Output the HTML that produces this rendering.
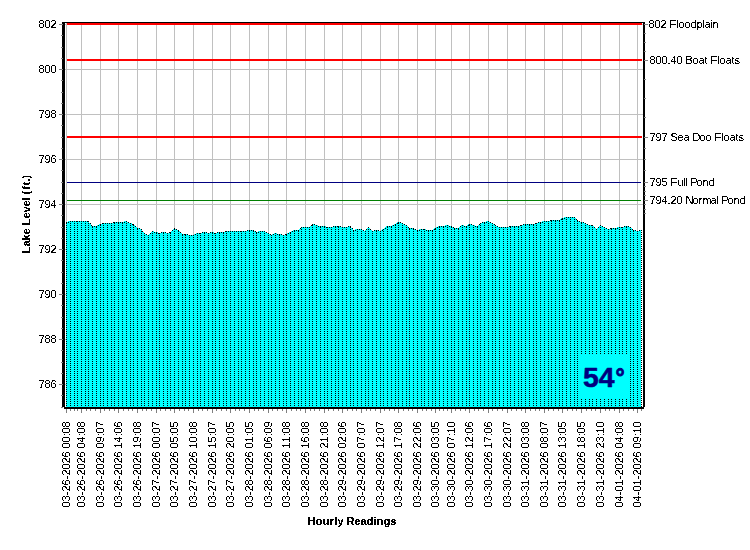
<!DOCTYPE html>
<html><head><meta charset="utf-8"><title>Lake Level</title>
<style>
html,body{margin:0;padding:0;background:#fff;width:750px;height:550px;overflow:hidden;font-family:"Liberation Sans",sans-serif;}
</style></head><body>
<svg width="750" height="550" viewBox="0 0 750 550" shape-rendering="crispEdges" style="display:block;position:absolute;left:0;top:0">
<defs><pattern id="dodd" patternUnits="userSpaceOnUse" x="0" y="0" width="1" height="2"><rect x="0" y="1" width="1" height="1" fill="#000"/></pattern><pattern id="deven" patternUnits="userSpaceOnUse" x="0" y="0" width="1" height="2"><rect x="0" y="0" width="1" height="1" fill="#000"/></pattern><filter id="bw" x="0" y="0" width="100%" height="100%" filterUnits="userSpaceOnUse" color-interpolation-filters="sRGB"><feComponentTransfer><feFuncA type="discrete" tableValues="0 1"/></feComponentTransfer></filter><filter id="bwh" x="0" y="0" width="100%" height="100%" filterUnits="userSpaceOnUse" color-interpolation-filters="sRGB"><feComponentTransfer><feFuncA type="discrete" tableValues="0 0 0 0 0 0 0 0 0 1 1 1 1 1 1 1 1 1 1 1"/></feComponentTransfer></filter><filter id="bwb" x="0" y="0" width="100%" height="100%" filterUnits="userSpaceOnUse" color-interpolation-filters="sRGB"><feComponentTransfer><feFuncA type="discrete" tableValues="0 0 1 1 1"/></feComponentTransfer></filter></defs>
<rect x="0" y="0" width="750" height="550" fill="#fff"/>
<g fill="#c0c0c0">
<rect x="66" y="23" width="1" height="384"/>
<rect x="81" y="23" width="1" height="384"/>
<rect x="100" y="23" width="1" height="384"/>
<rect x="118" y="23" width="1" height="384"/>
<rect x="137" y="23" width="1" height="384"/>
<rect x="156" y="23" width="1" height="384"/>
<rect x="174" y="23" width="1" height="384"/>
<rect x="193" y="23" width="1" height="384"/>
<rect x="212" y="23" width="1" height="384"/>
<rect x="230" y="23" width="1" height="384"/>
<rect x="249" y="23" width="1" height="384"/>
<rect x="268" y="23" width="1" height="384"/>
<rect x="286" y="23" width="1" height="384"/>
<rect x="305" y="23" width="1" height="384"/>
<rect x="324" y="23" width="1" height="384"/>
<rect x="342" y="23" width="1" height="384"/>
<rect x="361" y="23" width="1" height="384"/>
<rect x="380" y="23" width="1" height="384"/>
<rect x="398" y="23" width="1" height="384"/>
<rect x="417" y="23" width="1" height="384"/>
<rect x="435" y="23" width="1" height="384"/>
<rect x="451" y="23" width="1" height="384"/>
<rect x="469" y="23" width="1" height="384"/>
<rect x="488" y="23" width="1" height="384"/>
<rect x="507" y="23" width="1" height="384"/>
<rect x="525" y="23" width="1" height="384"/>
<rect x="544" y="23" width="1" height="384"/>
<rect x="562" y="23" width="1" height="384"/>
<rect x="581" y="23" width="1" height="384"/>
<rect x="600" y="23" width="1" height="384"/>
<rect x="619" y="23" width="1" height="384"/>
<rect x="637" y="23" width="1" height="384"/>
<rect x="65" y="24" width="578" height="1"/>
<rect x="65" y="69" width="578" height="1"/>
<rect x="65" y="114" width="578" height="1"/>
<rect x="65" y="159" width="578" height="1"/>
<rect x="65" y="204" width="578" height="1"/>
<rect x="65" y="249" width="578" height="1"/>
<rect x="65" y="294" width="578" height="1"/>
<rect x="65" y="339" width="578" height="1"/>
<rect x="65" y="384" width="578" height="1"/>
</g>
<path d="M66,407 L66,222 L70,221 L74,221 L77,221 L81,221 L85,221 L88,221 L92,226 L96,226 L100,224 L103,223 L107,223 L111,223 L114,222 L118,222 L122,222 L126,221 L130,223 L133,224 L137,228 L141,229 L144,233 L148,235 L152,231 L156,232 L159,233 L163,232 L167,233 L170,232 L174,228 L178,230 L182,234 L185,234 L189,235 L193,235 L197,233 L200,233 L204,232 L208,233 L212,232 L215,233 L219,232 L223,232 L226,231 L230,231 L234,231 L238,231 L241,231 L245,231 L249,230 L253,230 L256,232 L260,231 L264,231 L268,233 L271,235 L275,233 L279,234 L283,235 L286,234 L290,232 L294,230 L298,230 L301,227 L305,227 L309,227 L312,224 L316,225 L320,226 L324,226 L327,227 L331,227 L335,226 L338,226 L342,227 L346,227 L350,226 L353,230 L357,229 L361,229 L365,231 L368,227 L372,231 L376,230 L380,231 L383,229 L387,226 L391,226 L395,224 L398,222 L402,223 L406,225 L409,228 L413,228 L417,230 L421,229 L424,229 L428,230 L432,230 L435,228 L439,226 L443,226 L447,225 L451,226 L454,228 L458,228 L462,225 L466,226 L469,224 L473,225 L477,226 L480,223 L484,222 L488,221 L492,223 L495,225 L499,227 L503,227 L507,227 L510,226 L514,226 L518,226 L521,225 L525,224 L529,224 L533,224 L536,223 L540,222 L544,221 L548,221 L551,220 L555,220 L559,220 L562,218 L566,217 L570,217 L574,217 L577,220 L581,222 L585,223 L589,225 L592,225 L596,229 L600,225 L604,227 L608,229 L611,228 L615,228 L619,227 L622,227 L626,226 L630,227 L633,230 L637,231 L641,230 L641,407 Z" fill="#00ffff"/>
<g>
<rect x="66" y="222" width="1" height="185" fill="url(#dodd)"/>
<rect x="70" y="221" width="1" height="186" fill="url(#dodd)"/>
<rect x="74" y="221" width="1" height="186" fill="url(#dodd)"/>
<rect x="77" y="221" width="1" height="186" fill="url(#dodd)"/>
<rect x="81" y="221" width="1" height="186" fill="url(#dodd)"/>
<rect x="85" y="221" width="1" height="186" fill="url(#dodd)"/>
<rect x="88" y="221" width="1" height="186" fill="url(#dodd)"/>
<rect x="92" y="226" width="1" height="181" fill="url(#dodd)"/>
<rect x="96" y="226" width="1" height="181" fill="url(#dodd)"/>
<rect x="100" y="224" width="1" height="183" fill="url(#dodd)"/>
<rect x="103" y="223" width="1" height="184" fill="url(#dodd)"/>
<rect x="107" y="223" width="1" height="184" fill="url(#dodd)"/>
<rect x="111" y="223" width="1" height="184" fill="url(#dodd)"/>
<rect x="114" y="222" width="1" height="185" fill="url(#dodd)"/>
<rect x="118" y="222" width="1" height="185" fill="url(#dodd)"/>
<rect x="122" y="222" width="1" height="185" fill="url(#dodd)"/>
<rect x="126" y="221" width="1" height="186" fill="url(#dodd)"/>
<rect x="130" y="223" width="1" height="184" fill="url(#dodd)"/>
<rect x="133" y="224" width="1" height="183" fill="url(#dodd)"/>
<rect x="137" y="228" width="1" height="179" fill="url(#dodd)"/>
<rect x="141" y="229" width="1" height="178" fill="url(#dodd)"/>
<rect x="144" y="233" width="1" height="174" fill="url(#dodd)"/>
<rect x="148" y="235" width="1" height="172" fill="url(#dodd)"/>
<rect x="152" y="231" width="1" height="176" fill="url(#dodd)"/>
<rect x="156" y="232" width="1" height="175" fill="url(#dodd)"/>
<rect x="159" y="233" width="1" height="174" fill="url(#dodd)"/>
<rect x="163" y="232" width="1" height="175" fill="url(#dodd)"/>
<rect x="167" y="233" width="1" height="174" fill="url(#dodd)"/>
<rect x="170" y="232" width="1" height="175" fill="url(#dodd)"/>
<rect x="174" y="228" width="1" height="179" fill="url(#dodd)"/>
<rect x="178" y="230" width="1" height="177" fill="url(#dodd)"/>
<rect x="182" y="234" width="1" height="173" fill="url(#dodd)"/>
<rect x="185" y="234" width="1" height="173" fill="url(#dodd)"/>
<rect x="189" y="235" width="1" height="172" fill="url(#dodd)"/>
<rect x="193" y="235" width="1" height="172" fill="url(#dodd)"/>
<rect x="197" y="233" width="1" height="174" fill="url(#dodd)"/>
<rect x="200" y="233" width="1" height="174" fill="url(#dodd)"/>
<rect x="204" y="232" width="1" height="175" fill="url(#dodd)"/>
<rect x="208" y="233" width="1" height="174" fill="url(#dodd)"/>
<rect x="212" y="232" width="1" height="175" fill="url(#dodd)"/>
<rect x="215" y="233" width="1" height="174" fill="url(#dodd)"/>
<rect x="219" y="232" width="1" height="175" fill="url(#dodd)"/>
<rect x="223" y="232" width="1" height="175" fill="url(#dodd)"/>
<rect x="226" y="231" width="1" height="176" fill="url(#dodd)"/>
<rect x="230" y="231" width="1" height="176" fill="url(#dodd)"/>
<rect x="234" y="231" width="1" height="176" fill="url(#dodd)"/>
<rect x="238" y="231" width="1" height="176" fill="url(#dodd)"/>
<rect x="241" y="231" width="1" height="176" fill="url(#dodd)"/>
<rect x="245" y="231" width="1" height="176" fill="url(#dodd)"/>
<rect x="249" y="230" width="1" height="177" fill="url(#dodd)"/>
<rect x="253" y="230" width="1" height="177" fill="url(#dodd)"/>
<rect x="256" y="232" width="1" height="175" fill="url(#dodd)"/>
<rect x="260" y="231" width="1" height="176" fill="url(#dodd)"/>
<rect x="264" y="231" width="1" height="176" fill="url(#dodd)"/>
<rect x="268" y="233" width="1" height="174" fill="url(#dodd)"/>
<rect x="271" y="235" width="1" height="172" fill="url(#dodd)"/>
<rect x="275" y="233" width="1" height="174" fill="url(#dodd)"/>
<rect x="279" y="234" width="1" height="173" fill="url(#dodd)"/>
<rect x="283" y="235" width="1" height="172" fill="url(#dodd)"/>
<rect x="286" y="234" width="1" height="173" fill="url(#dodd)"/>
<rect x="290" y="232" width="1" height="175" fill="url(#dodd)"/>
<rect x="294" y="230" width="1" height="177" fill="url(#dodd)"/>
<rect x="298" y="230" width="1" height="177" fill="url(#dodd)"/>
<rect x="301" y="227" width="1" height="180" fill="url(#dodd)"/>
<rect x="305" y="227" width="1" height="180" fill="url(#dodd)"/>
<rect x="309" y="227" width="1" height="180" fill="url(#dodd)"/>
<rect x="312" y="224" width="1" height="183" fill="url(#dodd)"/>
<rect x="316" y="225" width="1" height="182" fill="url(#dodd)"/>
<rect x="320" y="226" width="1" height="181" fill="url(#dodd)"/>
<rect x="324" y="226" width="1" height="181" fill="url(#dodd)"/>
<rect x="327" y="227" width="1" height="180" fill="url(#dodd)"/>
<rect x="331" y="227" width="1" height="180" fill="url(#dodd)"/>
<rect x="335" y="226" width="1" height="181" fill="url(#dodd)"/>
<rect x="338" y="226" width="1" height="181" fill="url(#dodd)"/>
<rect x="342" y="227" width="1" height="180" fill="url(#dodd)"/>
<rect x="346" y="227" width="1" height="180" fill="url(#dodd)"/>
<rect x="350" y="226" width="1" height="181" fill="url(#dodd)"/>
<rect x="353" y="230" width="1" height="177" fill="url(#dodd)"/>
<rect x="357" y="229" width="1" height="178" fill="url(#dodd)"/>
<rect x="361" y="229" width="1" height="178" fill="url(#dodd)"/>
<rect x="365" y="231" width="1" height="176" fill="url(#dodd)"/>
<rect x="368" y="227" width="1" height="180" fill="url(#dodd)"/>
<rect x="372" y="231" width="1" height="176" fill="url(#dodd)"/>
<rect x="376" y="230" width="1" height="177" fill="url(#dodd)"/>
<rect x="380" y="231" width="1" height="176" fill="url(#dodd)"/>
<rect x="383" y="229" width="1" height="178" fill="url(#dodd)"/>
<rect x="387" y="226" width="1" height="181" fill="url(#dodd)"/>
<rect x="391" y="226" width="1" height="181" fill="url(#dodd)"/>
<rect x="395" y="224" width="1" height="183" fill="url(#dodd)"/>
<rect x="398" y="222" width="1" height="185" fill="url(#dodd)"/>
<rect x="402" y="223" width="1" height="184" fill="url(#dodd)"/>
<rect x="406" y="225" width="1" height="182" fill="url(#dodd)"/>
<rect x="409" y="228" width="1" height="179" fill="url(#dodd)"/>
<rect x="413" y="228" width="1" height="179" fill="url(#dodd)"/>
<rect x="417" y="230" width="1" height="177" fill="url(#dodd)"/>
<rect x="421" y="229" width="1" height="178" fill="url(#dodd)"/>
<rect x="424" y="229" width="1" height="178" fill="url(#dodd)"/>
<rect x="428" y="230" width="1" height="177" fill="url(#dodd)"/>
<rect x="432" y="230" width="1" height="177" fill="url(#dodd)"/>
<rect x="435" y="228" width="1" height="179" fill="url(#dodd)"/>
<rect x="439" y="226" width="1" height="181" fill="url(#dodd)"/>
<rect x="443" y="226" width="1" height="181" fill="url(#dodd)"/>
<rect x="447" y="225" width="1" height="182" fill="url(#dodd)"/>
<rect x="451" y="226" width="1" height="181" fill="url(#dodd)"/>
<rect x="454" y="228" width="1" height="179" fill="url(#dodd)"/>
<rect x="458" y="228" width="1" height="179" fill="url(#dodd)"/>
<rect x="462" y="225" width="1" height="182" fill="url(#dodd)"/>
<rect x="466" y="226" width="1" height="181" fill="url(#dodd)"/>
<rect x="469" y="224" width="1" height="183" fill="url(#dodd)"/>
<rect x="473" y="225" width="1" height="182" fill="url(#dodd)"/>
<rect x="477" y="226" width="1" height="181" fill="url(#dodd)"/>
<rect x="480" y="223" width="1" height="184" fill="url(#dodd)"/>
<rect x="484" y="222" width="1" height="185" fill="url(#dodd)"/>
<rect x="488" y="221" width="1" height="186" fill="url(#dodd)"/>
<rect x="492" y="223" width="1" height="184" fill="url(#dodd)"/>
<rect x="495" y="225" width="1" height="182" fill="url(#dodd)"/>
<rect x="499" y="227" width="1" height="180" fill="url(#dodd)"/>
<rect x="503" y="227" width="1" height="180" fill="url(#dodd)"/>
<rect x="507" y="227" width="1" height="180" fill="url(#dodd)"/>
<rect x="510" y="226" width="1" height="181" fill="url(#dodd)"/>
<rect x="514" y="226" width="1" height="181" fill="url(#dodd)"/>
<rect x="518" y="226" width="1" height="181" fill="url(#dodd)"/>
<rect x="521" y="225" width="1" height="182" fill="url(#dodd)"/>
<rect x="525" y="224" width="1" height="183" fill="url(#dodd)"/>
<rect x="529" y="224" width="1" height="183" fill="url(#dodd)"/>
<rect x="533" y="224" width="1" height="183" fill="url(#dodd)"/>
<rect x="536" y="223" width="1" height="184" fill="url(#dodd)"/>
<rect x="540" y="222" width="1" height="185" fill="url(#dodd)"/>
<rect x="544" y="221" width="1" height="186" fill="url(#dodd)"/>
<rect x="548" y="221" width="1" height="186" fill="url(#dodd)"/>
<rect x="551" y="220" width="1" height="187" fill="url(#dodd)"/>
<rect x="555" y="220" width="1" height="187" fill="url(#dodd)"/>
<rect x="559" y="220" width="1" height="187" fill="url(#dodd)"/>
<rect x="562" y="218" width="1" height="189" fill="url(#dodd)"/>
<rect x="566" y="217" width="1" height="190" fill="url(#dodd)"/>
<rect x="570" y="217" width="1" height="190" fill="url(#dodd)"/>
<rect x="574" y="217" width="1" height="190" fill="url(#dodd)"/>
<rect x="577" y="220" width="1" height="187" fill="url(#dodd)"/>
<rect x="581" y="222" width="1" height="185" fill="url(#dodd)"/>
<rect x="585" y="223" width="1" height="184" fill="url(#dodd)"/>
<rect x="589" y="225" width="1" height="182" fill="url(#dodd)"/>
<rect x="592" y="225" width="1" height="182" fill="url(#dodd)"/>
<rect x="596" y="229" width="1" height="178" fill="url(#dodd)"/>
<rect x="600" y="225" width="1" height="182" fill="url(#dodd)"/>
<rect x="604" y="227" width="1" height="180" fill="url(#dodd)"/>
<rect x="608" y="229" width="1" height="178" fill="url(#dodd)"/>
<rect x="611" y="228" width="1" height="179" fill="url(#dodd)"/>
<rect x="615" y="228" width="1" height="179" fill="url(#dodd)"/>
<rect x="619" y="227" width="1" height="180" fill="url(#dodd)"/>
<rect x="622" y="227" width="1" height="180" fill="url(#dodd)"/>
<rect x="626" y="226" width="1" height="181" fill="url(#dodd)"/>
<rect x="630" y="227" width="1" height="180" fill="url(#dodd)"/>
<rect x="633" y="230" width="1" height="177" fill="url(#dodd)"/>
<rect x="637" y="231" width="1" height="176" fill="url(#dodd)"/>
<rect x="641" y="230" width="1" height="177" fill="#fff"/>
<rect x="641" y="230" width="1" height="177" fill="url(#deven)"/>
</g>
<path d="M66,222h1v1h-1zM68,222h1v1h-1zM70,221h1v1h-1zM72,221h1v1h-1zM74,221h1v1h-1zM76,221h1v1h-1zM77,221h1v1h-1zM79,221h1v1h-1zM81,221h1v1h-1zM83,221h1v1h-1zM85,221h1v1h-1zM87,221h1v1h-1zM88,221h1v1h-1zM90,223h1v1h-1zM91,225h1v1h-1zM92,226h1v1h-1zM94,226h1v1h-1zM96,226h1v1h-1zM98,225h1v1h-1zM100,224h1v1h-1zM102,223h1v1h-1zM103,223h1v1h-1zM105,223h1v1h-1zM107,223h1v1h-1zM109,223h1v1h-1zM111,223h1v1h-1zM113,222h1v1h-1zM114,222h1v1h-1zM116,222h1v1h-1zM118,222h1v1h-1zM120,222h1v1h-1zM122,222h1v1h-1zM124,222h1v1h-1zM126,221h1v1h-1zM128,222h1v1h-1zM130,223h1v1h-1zM132,224h1v1h-1zM133,224h1v1h-1zM135,226h1v1h-1zM137,228h1v1h-1zM139,228h1v1h-1zM141,229h1v1h-1zM142,231h1v1h-1zM144,233h1v1h-1zM146,234h1v1h-1zM148,235h1v1h-1zM150,233h1v1h-1zM152,231h1v1h-1zM154,232h1v1h-1zM156,232h1v1h-1zM158,233h1v1h-1zM159,233h1v1h-1zM161,232h1v1h-1zM163,232h1v1h-1zM165,232h1v1h-1zM167,233h1v1h-1zM169,232h1v1h-1zM170,232h1v1h-1zM172,230h1v1h-1zM174,228h1v1h-1zM176,229h1v1h-1zM178,230h1v1h-1zM180,232h1v1h-1zM182,234h1v1h-1zM184,234h1v1h-1zM185,234h1v1h-1zM187,234h1v1h-1zM189,235h1v1h-1zM191,235h1v1h-1zM193,235h1v1h-1zM195,234h1v1h-1zM197,233h1v1h-1zM199,233h1v1h-1zM200,233h1v1h-1zM202,232h1v1h-1zM204,232h1v1h-1zM206,232h1v1h-1zM208,233h1v1h-1zM210,232h1v1h-1zM212,232h1v1h-1zM214,233h1v1h-1zM215,233h1v1h-1zM217,232h1v1h-1zM219,232h1v1h-1zM221,232h1v1h-1zM223,232h1v1h-1zM225,231h1v1h-1zM226,231h1v1h-1zM228,231h1v1h-1zM230,231h1v1h-1zM232,231h1v1h-1zM234,231h1v1h-1zM236,231h1v1h-1zM238,231h1v1h-1zM240,231h1v1h-1zM241,231h1v1h-1zM243,231h1v1h-1zM245,231h1v1h-1zM247,230h1v1h-1zM249,230h1v1h-1zM251,230h1v1h-1zM253,230h1v1h-1zM255,231h1v1h-1zM256,232h1v1h-1zM258,232h1v1h-1zM260,231h1v1h-1zM262,231h1v1h-1zM264,231h1v1h-1zM266,232h1v1h-1zM268,233h1v1h-1zM270,234h1v1h-1zM271,235h1v1h-1zM273,234h1v1h-1zM275,233h1v1h-1zM277,234h1v1h-1zM279,234h1v1h-1zM281,234h1v1h-1zM283,235h1v1h-1zM285,234h1v1h-1zM286,234h1v1h-1zM288,233h1v1h-1zM290,232h1v1h-1zM292,231h1v1h-1zM294,230h1v1h-1zM296,230h1v1h-1zM298,230h1v1h-1zM300,228h1v1h-1zM301,227h1v1h-1zM303,227h1v1h-1zM305,227h1v1h-1zM307,227h1v1h-1zM309,227h1v1h-1zM311,225h1v1h-1zM312,224h1v1h-1zM314,224h1v1h-1zM316,225h1v1h-1zM318,226h1v1h-1zM320,226h1v1h-1zM322,226h1v1h-1zM324,226h1v1h-1zM326,227h1v1h-1zM327,227h1v1h-1zM329,227h1v1h-1zM331,227h1v1h-1zM333,226h1v1h-1zM335,226h1v1h-1zM337,226h1v1h-1zM338,226h1v1h-1zM340,226h1v1h-1zM342,227h1v1h-1zM344,227h1v1h-1zM346,227h1v1h-1zM348,226h1v1h-1zM350,226h1v1h-1zM352,228h1v1h-1zM353,230h1v1h-1zM355,230h1v1h-1zM357,229h1v1h-1zM359,229h1v1h-1zM361,229h1v1h-1zM363,230h1v1h-1zM365,231h1v1h-1zM366,229h1v1h-1zM368,227h1v1h-1zM370,229h1v1h-1zM372,231h1v1h-1zM374,230h1v1h-1zM376,230h1v1h-1zM378,230h1v1h-1zM380,231h1v1h-1zM382,230h1v1h-1zM383,229h1v1h-1zM385,228h1v1h-1zM387,226h1v1h-1zM389,226h1v1h-1zM391,226h1v1h-1zM393,225h1v1h-1zM395,224h1v1h-1zM397,223h1v1h-1zM398,222h1v1h-1zM400,222h1v1h-1zM402,223h1v1h-1zM404,224h1v1h-1zM406,225h1v1h-1zM408,227h1v1h-1zM409,228h1v1h-1zM411,228h1v1h-1zM413,228h1v1h-1zM415,229h1v1h-1zM417,230h1v1h-1zM419,230h1v1h-1zM421,229h1v1h-1zM423,229h1v1h-1zM424,229h1v1h-1zM426,230h1v1h-1zM428,230h1v1h-1zM430,230h1v1h-1zM432,230h1v1h-1zM434,229h1v1h-1zM435,228h1v1h-1zM437,227h1v1h-1zM439,226h1v1h-1zM441,226h1v1h-1zM443,226h1v1h-1zM445,226h1v1h-1zM447,225h1v1h-1zM449,226h1v1h-1zM451,226h1v1h-1zM453,227h1v1h-1zM454,228h1v1h-1zM456,228h1v1h-1zM458,228h1v1h-1zM460,226h1v1h-1zM462,225h1v1h-1zM464,226h1v1h-1zM466,226h1v1h-1zM468,225h1v1h-1zM469,224h1v1h-1zM471,224h1v1h-1zM473,225h1v1h-1zM475,226h1v1h-1zM477,226h1v1h-1zM479,224h1v1h-1zM480,223h1v1h-1zM482,222h1v1h-1zM484,222h1v1h-1zM486,222h1v1h-1zM488,221h1v1h-1zM490,222h1v1h-1zM492,223h1v1h-1zM494,224h1v1h-1zM495,225h1v1h-1zM497,226h1v1h-1zM499,227h1v1h-1zM501,227h1v1h-1zM503,227h1v1h-1zM505,227h1v1h-1zM507,227h1v1h-1zM509,226h1v1h-1zM510,226h1v1h-1zM512,226h1v1h-1zM514,226h1v1h-1zM516,226h1v1h-1zM518,226h1v1h-1zM520,225h1v1h-1zM521,225h1v1h-1zM523,224h1v1h-1zM525,224h1v1h-1zM527,224h1v1h-1zM529,224h1v1h-1zM531,224h1v1h-1zM533,224h1v1h-1zM535,223h1v1h-1zM536,223h1v1h-1zM538,222h1v1h-1zM540,222h1v1h-1zM542,222h1v1h-1zM544,221h1v1h-1zM546,221h1v1h-1zM548,221h1v1h-1zM550,220h1v1h-1zM551,220h1v1h-1zM553,220h1v1h-1zM555,220h1v1h-1zM557,220h1v1h-1zM559,220h1v1h-1zM561,219h1v1h-1zM562,218h1v1h-1zM564,218h1v1h-1zM566,217h1v1h-1zM568,217h1v1h-1zM570,217h1v1h-1zM572,217h1v1h-1zM574,217h1v1h-1zM576,219h1v1h-1zM577,220h1v1h-1zM579,221h1v1h-1zM581,222h1v1h-1zM583,222h1v1h-1zM585,223h1v1h-1zM587,224h1v1h-1zM589,225h1v1h-1zM591,225h1v1h-1zM592,225h1v1h-1zM594,227h1v1h-1zM596,229h1v1h-1zM598,227h1v1h-1zM600,225h1v1h-1zM602,226h1v1h-1zM604,227h1v1h-1zM606,228h1v1h-1zM608,229h1v1h-1zM610,228h1v1h-1zM611,228h1v1h-1zM613,228h1v1h-1zM615,228h1v1h-1zM617,228h1v1h-1zM619,227h1v1h-1zM621,227h1v1h-1zM622,227h1v1h-1zM624,226h1v1h-1zM626,226h1v1h-1zM628,226h1v1h-1zM630,227h1v1h-1zM632,229h1v1h-1zM633,230h1v1h-1zM635,230h1v1h-1zM637,231h1v1h-1zM639,230h1v1h-1z" fill="#000"/>
<rect x="579" y="355" width="50" height="43" fill="#00ffff"/>
<g shape-rendering="auto" font-family="Liberation Sans, sans-serif" font-weight="bold" fill="#000080" stroke="#000080" stroke-width="0.5" stroke-linejoin="round"><text x="583" y="387" font-size="27.3" textLength="31.6" lengthAdjust="spacingAndGlyphs">54</text><text x="615.6" y="384.7" font-size="23" stroke-width="0.8">°</text></g>
<rect x="67" y="23" width="575" height="2" fill="#ff0000"/>
<rect x="67" y="59" width="575" height="2" fill="#ff0000"/>
<rect x="67" y="136" width="575" height="2" fill="#ff0000"/>
<rect x="67" y="182" width="574" height="1" fill="#000080"/>
<rect x="67" y="200" width="574" height="1" fill="#008000"/>
<rect x="62" y="22" width="3" height="385" fill="#000"/>
<rect x="62" y="22" width="583" height="1" fill="#000"/>
<rect x="643" y="22" width="2" height="385" fill="#000"/>
<rect x="643" y="407" width="1" height="1" fill="#000"/>
<rect x="64" y="407" width="580" height="2" fill="#000"/>
<g fill="#808080">
<rect x="59" y="24" width="4" height="1"/>
<rect x="61" y="35" width="2" height="1"/>
<rect x="61" y="47" width="2" height="1"/>
<rect x="61" y="58" width="2" height="1"/>
<rect x="59" y="69" width="4" height="1"/>
<rect x="61" y="80" width="2" height="1"/>
<rect x="61" y="92" width="2" height="1"/>
<rect x="61" y="103" width="2" height="1"/>
<rect x="59" y="114" width="4" height="1"/>
<rect x="61" y="125" width="2" height="1"/>
<rect x="61" y="137" width="2" height="1"/>
<rect x="61" y="148" width="2" height="1"/>
<rect x="59" y="159" width="4" height="1"/>
<rect x="61" y="170" width="2" height="1"/>
<rect x="61" y="182" width="2" height="1"/>
<rect x="61" y="193" width="2" height="1"/>
<rect x="59" y="204" width="4" height="1"/>
<rect x="61" y="215" width="2" height="1"/>
<rect x="61" y="227" width="2" height="1"/>
<rect x="61" y="238" width="2" height="1"/>
<rect x="59" y="249" width="4" height="1"/>
<rect x="61" y="260" width="2" height="1"/>
<rect x="61" y="272" width="2" height="1"/>
<rect x="61" y="283" width="2" height="1"/>
<rect x="59" y="294" width="4" height="1"/>
<rect x="61" y="305" width="2" height="1"/>
<rect x="61" y="317" width="2" height="1"/>
<rect x="61" y="328" width="2" height="1"/>
<rect x="59" y="339" width="4" height="1"/>
<rect x="61" y="350" width="2" height="1"/>
<rect x="61" y="362" width="2" height="1"/>
<rect x="61" y="373" width="2" height="1"/>
<rect x="59" y="384" width="4" height="1"/>
<rect x="61" y="395" width="2" height="1"/>
<rect x="61" y="407" width="2" height="1"/>
<rect x="644" y="24" width="4" height="1"/>
<rect x="644" y="33" width="2" height="1"/>
<rect x="644" y="42" width="2" height="1"/>
<rect x="644" y="51" width="2" height="1"/>
<rect x="644" y="60" width="4" height="1"/>
<rect x="644" y="79" width="2" height="1"/>
<rect x="644" y="98" width="2" height="1"/>
<rect x="644" y="117" width="2" height="1"/>
<rect x="644" y="137" width="4" height="1"/>
<rect x="644" y="148" width="2" height="1"/>
<rect x="644" y="159" width="2" height="1"/>
<rect x="644" y="170" width="2" height="1"/>
<rect x="644" y="182" width="4" height="1"/>
<rect x="644" y="186" width="2" height="1"/>
<rect x="644" y="191" width="2" height="1"/>
<rect x="644" y="195" width="2" height="1"/>
<rect x="644" y="200" width="4" height="1"/>
<rect x="644" y="204" width="2" height="1"/>
<rect x="644" y="209" width="2" height="1"/>
<rect x="644" y="213" width="2" height="1"/>
<rect x="66" y="409" width="1" height="4"/>
<rect x="70" y="409" width="1" height="2"/>
<rect x="74" y="409" width="1" height="2"/>
<rect x="77" y="409" width="1" height="2"/>
<rect x="81" y="409" width="1" height="4"/>
<rect x="86" y="409" width="1" height="2"/>
<rect x="90" y="409" width="1" height="2"/>
<rect x="95" y="409" width="1" height="2"/>
<rect x="100" y="409" width="1" height="4"/>
<rect x="104" y="409" width="1" height="2"/>
<rect x="109" y="409" width="1" height="2"/>
<rect x="114" y="409" width="1" height="2"/>
<rect x="118" y="409" width="1" height="4"/>
<rect x="123" y="409" width="1" height="2"/>
<rect x="128" y="409" width="1" height="2"/>
<rect x="132" y="409" width="1" height="2"/>
<rect x="137" y="409" width="1" height="4"/>
<rect x="142" y="409" width="1" height="2"/>
<rect x="146" y="409" width="1" height="2"/>
<rect x="151" y="409" width="1" height="2"/>
<rect x="156" y="409" width="1" height="4"/>
<rect x="160" y="409" width="1" height="2"/>
<rect x="165" y="409" width="1" height="2"/>
<rect x="170" y="409" width="1" height="2"/>
<rect x="174" y="409" width="1" height="4"/>
<rect x="179" y="409" width="1" height="2"/>
<rect x="184" y="409" width="1" height="2"/>
<rect x="188" y="409" width="1" height="2"/>
<rect x="193" y="409" width="1" height="4"/>
<rect x="198" y="409" width="1" height="2"/>
<rect x="202" y="409" width="1" height="2"/>
<rect x="207" y="409" width="1" height="2"/>
<rect x="212" y="409" width="1" height="4"/>
<rect x="216" y="409" width="1" height="2"/>
<rect x="221" y="409" width="1" height="2"/>
<rect x="226" y="409" width="1" height="2"/>
<rect x="230" y="409" width="1" height="4"/>
<rect x="235" y="409" width="1" height="2"/>
<rect x="239" y="409" width="1" height="2"/>
<rect x="244" y="409" width="1" height="2"/>
<rect x="249" y="409" width="1" height="4"/>
<rect x="254" y="409" width="1" height="2"/>
<rect x="258" y="409" width="1" height="2"/>
<rect x="263" y="409" width="1" height="2"/>
<rect x="268" y="409" width="1" height="4"/>
<rect x="272" y="409" width="1" height="2"/>
<rect x="277" y="409" width="1" height="2"/>
<rect x="282" y="409" width="1" height="2"/>
<rect x="286" y="409" width="1" height="4"/>
<rect x="291" y="409" width="1" height="2"/>
<rect x="296" y="409" width="1" height="2"/>
<rect x="300" y="409" width="1" height="2"/>
<rect x="305" y="409" width="1" height="4"/>
<rect x="310" y="409" width="1" height="2"/>
<rect x="314" y="409" width="1" height="2"/>
<rect x="319" y="409" width="1" height="2"/>
<rect x="324" y="409" width="1" height="4"/>
<rect x="328" y="409" width="1" height="2"/>
<rect x="333" y="409" width="1" height="2"/>
<rect x="338" y="409" width="1" height="2"/>
<rect x="342" y="409" width="1" height="4"/>
<rect x="347" y="409" width="1" height="2"/>
<rect x="352" y="409" width="1" height="2"/>
<rect x="356" y="409" width="1" height="2"/>
<rect x="361" y="409" width="1" height="4"/>
<rect x="366" y="409" width="1" height="2"/>
<rect x="370" y="409" width="1" height="2"/>
<rect x="375" y="409" width="1" height="2"/>
<rect x="380" y="409" width="1" height="4"/>
<rect x="384" y="409" width="1" height="2"/>
<rect x="389" y="409" width="1" height="2"/>
<rect x="394" y="409" width="1" height="2"/>
<rect x="398" y="409" width="1" height="4"/>
<rect x="403" y="409" width="1" height="2"/>
<rect x="408" y="409" width="1" height="2"/>
<rect x="412" y="409" width="1" height="2"/>
<rect x="417" y="409" width="1" height="4"/>
<rect x="422" y="409" width="1" height="2"/>
<rect x="426" y="409" width="1" height="2"/>
<rect x="431" y="409" width="1" height="2"/>
<rect x="435" y="409" width="1" height="4"/>
<rect x="439" y="409" width="1" height="2"/>
<rect x="443" y="409" width="1" height="2"/>
<rect x="447" y="409" width="1" height="2"/>
<rect x="451" y="409" width="1" height="4"/>
<rect x="455" y="409" width="1" height="2"/>
<rect x="460" y="409" width="1" height="2"/>
<rect x="465" y="409" width="1" height="2"/>
<rect x="469" y="409" width="1" height="4"/>
<rect x="474" y="409" width="1" height="2"/>
<rect x="478" y="409" width="1" height="2"/>
<rect x="483" y="409" width="1" height="2"/>
<rect x="488" y="409" width="1" height="4"/>
<rect x="492" y="409" width="1" height="2"/>
<rect x="497" y="409" width="1" height="2"/>
<rect x="502" y="409" width="1" height="2"/>
<rect x="507" y="409" width="1" height="4"/>
<rect x="511" y="409" width="1" height="2"/>
<rect x="516" y="409" width="1" height="2"/>
<rect x="521" y="409" width="1" height="2"/>
<rect x="525" y="409" width="1" height="4"/>
<rect x="530" y="409" width="1" height="2"/>
<rect x="535" y="409" width="1" height="2"/>
<rect x="539" y="409" width="1" height="2"/>
<rect x="544" y="409" width="1" height="4"/>
<rect x="548" y="409" width="1" height="2"/>
<rect x="553" y="409" width="1" height="2"/>
<rect x="558" y="409" width="1" height="2"/>
<rect x="562" y="409" width="1" height="4"/>
<rect x="567" y="409" width="1" height="2"/>
<rect x="572" y="409" width="1" height="2"/>
<rect x="576" y="409" width="1" height="2"/>
<rect x="581" y="409" width="1" height="4"/>
<rect x="586" y="409" width="1" height="2"/>
<rect x="591" y="409" width="1" height="2"/>
<rect x="595" y="409" width="1" height="2"/>
<rect x="600" y="409" width="1" height="4"/>
<rect x="605" y="409" width="1" height="2"/>
<rect x="609" y="409" width="1" height="2"/>
<rect x="614" y="409" width="1" height="2"/>
<rect x="619" y="409" width="1" height="4"/>
<rect x="623" y="409" width="1" height="2"/>
<rect x="628" y="409" width="1" height="2"/>
<rect x="633" y="409" width="1" height="2"/>
<rect x="637" y="409" width="1" height="4"/>
<rect x="641" y="409" width="1" height="2"/>
</g>
<g font-family="Liberation Sans, sans-serif" font-size="11" fill="#000" filter="url(#bwh)" xml:space="preserve">
<text x="38.5 44.5 50.5" y="28">802</text>
<text x="38.5 44.5 50.5" y="73">800</text>
<text x="38.5 44.5 50.5" y="118">798</text>
<text x="38.5 44.5 50.5" y="163">796</text>
<text x="38.5 44.5 50.5" y="208">794</text>
<text x="38.5 44.5 50.5" y="253">792</text>
<text x="38.5 44.5 50.5" y="298">790</text>
<text x="38.5 44.5 50.5" y="343">788</text>
<text x="38.5 44.5 50.5" y="388">786</text>
<text x="648.5 654.5 660.5 666.5 669.5 676.5 678.5 684.5 690.5 696.5 702.5 704.5 710.5 712.5" y="28">802 Floodplain</text>
<text x="649.5 655.5 661.5 667.5 670.5 676.5 682.5 685.5 692.5 698.5 704.5 707.5 710.5 717.5 719.5 725.5 731.5 734.5" y="64">800.40 Boat Floats</text>
<text x="649.5 655.5 661.5 667.5 670.5 677.5 683.5 689.5 692.5 699.5 705.5 711.5 714.5 721.5 723.5 729.5 735.5 738.5" y="141">797 Sea Doo Floats</text>
<text x="649.5 655.5 661.5 667.5 670.5 677.5 683.5 685.5 687.5 690.5 696.5 702.5 708.5" y="186">795 Full Pond</text>
<text x="649.5 655.5 661.5 667.5 670.5 676.5 682.5 685.5 692.5 698.5 702.5 710.5 716.5 718.5 721.5 727.5 733.5 739.5" y="204">794.20 Normal Pond</text>
</g>
<g font-family="Liberation Sans, sans-serif" font-size="11" fill="#000" filter="url(#bw)" xml:space="preserve">
<text transform="translate(70,507.5) rotate(-90)" x="0 6 12 16 22 28 32 38 44 50 56 59 65 71.3 74 80" y="0">03-26-2026 00:08</text>
<text transform="translate(85,507.5) rotate(-90)" x="0 6 12 16 22 28 32 38 44 50 56 59 65 71.3 74 80" y="0">03-26-2026 04:08</text>
<text transform="translate(104,507.5) rotate(-90)" x="0 6 12 16 22 28 32 38 44 50 56 59 65 71.3 74 80" y="0">03-26-2026 09:07</text>
<text transform="translate(122,507.5) rotate(-90)" x="0 6 12 16 22 28 32 38 44 50 56 59 65 71.3 74 80" y="0">03-26-2026 14:06</text>
<text transform="translate(141,507.5) rotate(-90)" x="0 6 12 16 22 28 32 38 44 50 56 59 65 71.3 74 80" y="0">03-26-2026 19:08</text>
<text transform="translate(160,507.5) rotate(-90)" x="0 6 12 16 22 28 32 38 44 50 56 59 65 71.3 74 80" y="0">03-27-2026 00:07</text>
<text transform="translate(178,507.5) rotate(-90)" x="0 6 12 16 22 28 32 38 44 50 56 59 65 71.3 74 80" y="0">03-27-2026 05:05</text>
<text transform="translate(197,507.5) rotate(-90)" x="0 6 12 16 22 28 32 38 44 50 56 59 65 71.3 74 80" y="0">03-27-2026 10:08</text>
<text transform="translate(216,507.5) rotate(-90)" x="0 6 12 16 22 28 32 38 44 50 56 59 65 71.3 74 80" y="0">03-27-2026 15:07</text>
<text transform="translate(234,507.5) rotate(-90)" x="0 6 12 16 22 28 32 38 44 50 56 59 65 71.3 74 80" y="0">03-27-2026 20:05</text>
<text transform="translate(253,507.5) rotate(-90)" x="0 6 12 16 22 28 32 38 44 50 56 59 65 71.3 74 80" y="0">03-28-2026 01:05</text>
<text transform="translate(272,507.5) rotate(-90)" x="0 6 12 16 22 28 32 38 44 50 56 59 65 71.3 74 80" y="0">03-28-2026 06:09</text>
<text transform="translate(290,507.5) rotate(-90)" x="0 6 12 16 22 28 32 38 44 50 56 59 65 71.3 74 80" y="0">03-28-2026 11:08</text>
<text transform="translate(309,507.5) rotate(-90)" x="0 6 12 16 22 28 32 38 44 50 56 59 65 71.3 74 80" y="0">03-28-2026 16:08</text>
<text transform="translate(328,507.5) rotate(-90)" x="0 6 12 16 22 28 32 38 44 50 56 59 65 71.3 74 80" y="0">03-28-2026 21:08</text>
<text transform="translate(346,507.5) rotate(-90)" x="0 6 12 16 22 28 32 38 44 50 56 59 65 71.3 74 80" y="0">03-29-2026 02:06</text>
<text transform="translate(365,507.5) rotate(-90)" x="0 6 12 16 22 28 32 38 44 50 56 59 65 71.3 74 80" y="0">03-29-2026 07:07</text>
<text transform="translate(384,507.5) rotate(-90)" x="0 6 12 16 22 28 32 38 44 50 56 59 65 71.3 74 80" y="0">03-29-2026 12:07</text>
<text transform="translate(402,507.5) rotate(-90)" x="0 6 12 16 22 28 32 38 44 50 56 59 65 71.3 74 80" y="0">03-29-2026 17:08</text>
<text transform="translate(421,507.5) rotate(-90)" x="0 6 12 16 22 28 32 38 44 50 56 59 65 71.3 74 80" y="0">03-29-2026 22:06</text>
<text transform="translate(439,507.5) rotate(-90)" x="0 6 12 16 22 28 32 38 44 50 56 59 65 71.3 74 80" y="0">03-30-2026 03:05</text>
<text transform="translate(455,507.5) rotate(-90)" x="0 6 12 16 22 28 32 38 44 50 56 59 65 71.3 74 80" y="0">03-30-2026 07:10</text>
<text transform="translate(473,507.5) rotate(-90)" x="0 6 12 16 22 28 32 38 44 50 56 59 65 71.3 74 80" y="0">03-30-2026 12:06</text>
<text transform="translate(492,507.5) rotate(-90)" x="0 6 12 16 22 28 32 38 44 50 56 59 65 71.3 74 80" y="0">03-30-2026 17:06</text>
<text transform="translate(511,507.5) rotate(-90)" x="0 6 12 16 22 28 32 38 44 50 56 59 65 71.3 74 80" y="0">03-30-2026 22:07</text>
<text transform="translate(529,507.5) rotate(-90)" x="0 6 12 16 22 28 32 38 44 50 56 59 65 71.3 74 80" y="0">03-31-2026 03:08</text>
<text transform="translate(548,507.5) rotate(-90)" x="0 6 12 16 22 28 32 38 44 50 56 59 65 71.3 74 80" y="0">03-31-2026 08:07</text>
<text transform="translate(566,507.5) rotate(-90)" x="0 6 12 16 22 28 32 38 44 50 56 59 65 71.3 74 80" y="0">03-31-2026 13:05</text>
<text transform="translate(585,507.5) rotate(-90)" x="0 6 12 16 22 28 32 38 44 50 56 59 65 71.3 74 80" y="0">03-31-2026 18:05</text>
<text transform="translate(604,507.5) rotate(-90)" x="0 6 12 16 22 28 32 38 44 50 56 59 65 71.3 74 80" y="0">03-31-2026 23:10</text>
<text transform="translate(623,507.5) rotate(-90)" x="0 6 12 16 22 28 32 38 44 50 56 59 65 71.3 74 80" y="0">04-01-2026 04:08</text>
<text transform="translate(641,507.5) rotate(-90)" x="0 6 12 16 22 28 32 38 44 50 56 59 65 71.3 74 80" y="0">04-01-2026 09:10</text>
</g>
<g font-family="Liberation Sans, sans-serif" font-size="11" font-weight="bold" fill="#000" filter="url(#bwb)" xml:space="preserve">
<text x="307.5 315.5 322.5 329.5 334.5 337.5 343.5 346.5 354.5 360.5 366.5 373.5 376.5 383.5 390.5" y="525">Hourly Readings</text>
</g>
<g font-family="Liberation Sans, sans-serif" font-size="11" font-weight="bold" fill="#000" filter="url(#bwh)" xml:space="preserve">
<text transform="translate(30,214) rotate(-90)" x="-39.5 -32.5 -26.5 -20.5 -14.5 -11.5 -4.5 1.5 7.5 13.5 16.5 19.5 24.5 28.5 32.5 35.5" y="0">Lake Level (ft.)</text>
</g>
</svg>
</body></html>
